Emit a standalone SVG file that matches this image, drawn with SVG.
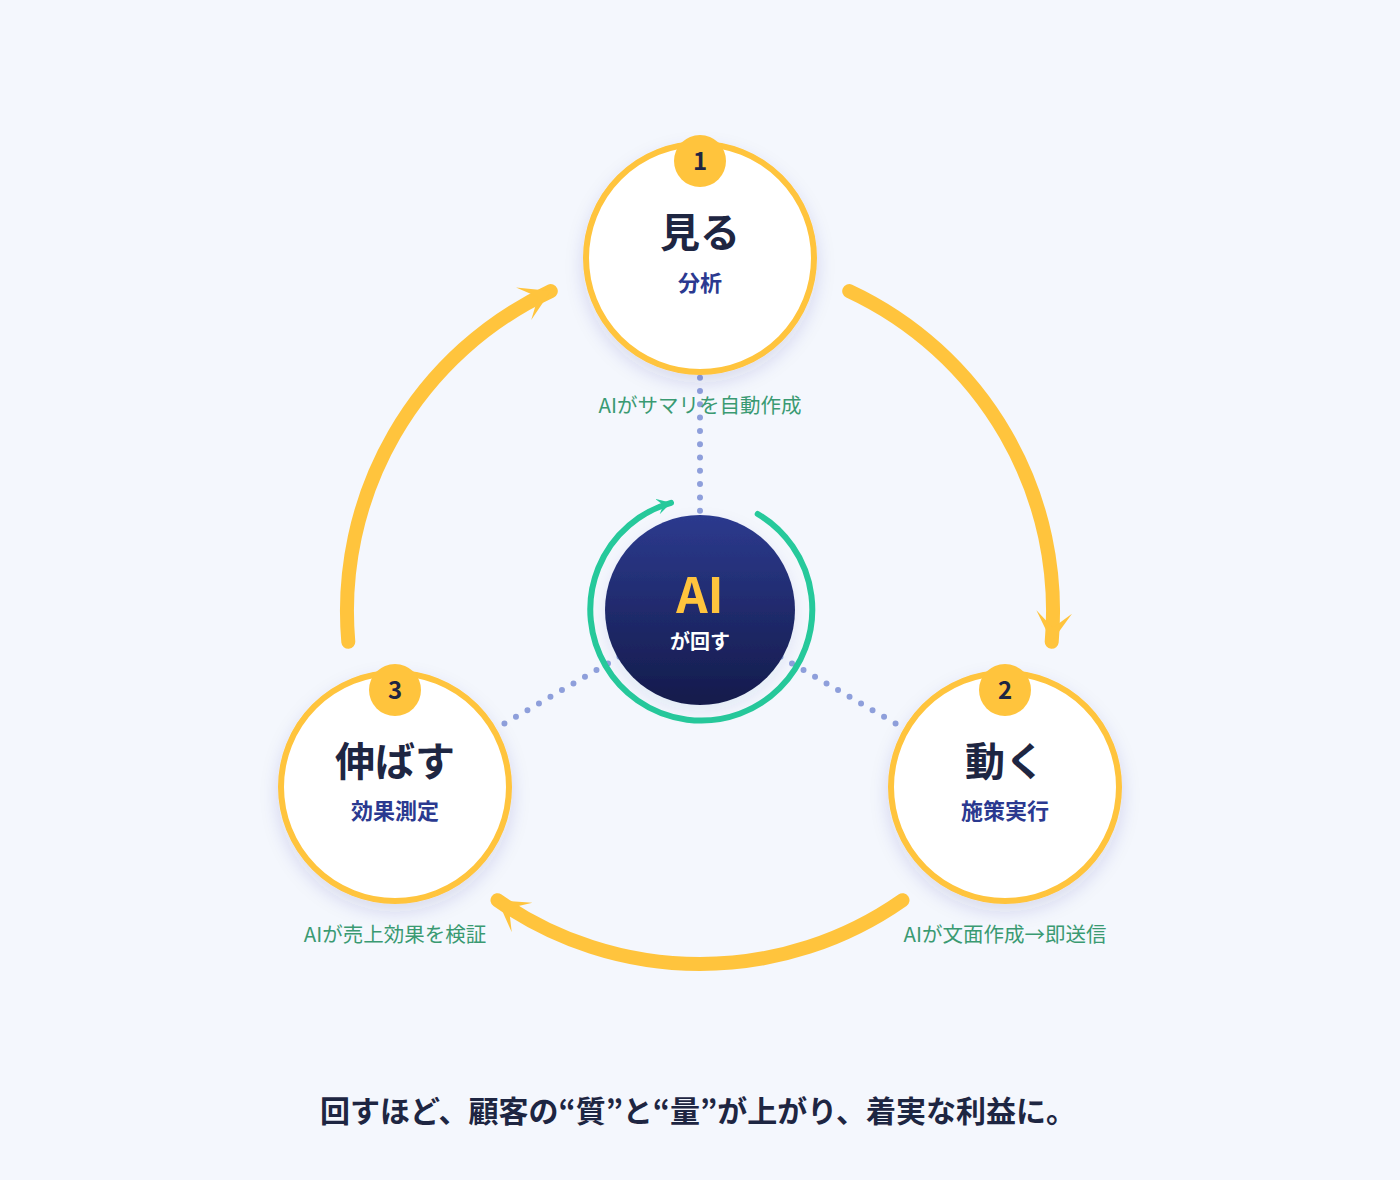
<svg xmlns="http://www.w3.org/2000/svg" width="1400" height="1180" viewBox="0 0 1400 1180">
<style>
text{font-family:"Noto Sans CJK JP","Noto Sans",sans-serif;text-anchor:middle}
.node{fill:#FFFFFF;stroke:#FFC43D;stroke-width:6}
.badge{fill:#FFC43D}
.num{font-size:24px;font-weight:700;fill:#1E2642}
.title{font-size:40px;font-weight:700;fill:#1E2642}
.sub{font-size:22px;font-weight:700;fill:#2B3990}
.note{font-size:20.5px;font-weight:400;fill:#3A9A72}
.cycle{fill:none;stroke:#FFC43D;stroke-width:14;stroke-linecap:round}
.dots{fill:none;stroke:#8E9FDB;stroke-width:6;stroke-linecap:round;stroke-dasharray:0 13.3}
</style>
<defs>
<filter id="sh" x="-30%" y="-30%" width="160%" height="160%">
<feDropShadow dx="0" dy="8" stdDeviation="9" flood-color="#2B3990" flood-opacity="0.14"/>
</filter>
<filter id="sh2" x="-30%" y="-30%" width="160%" height="160%">
<feDropShadow dx="0" dy="6" stdDeviation="8" flood-color="#2B3990" flood-opacity="0.08"/>
</filter>
<linearGradient id="ai" x1="0" y1="0" x2="0" y2="1">
<stop offset="0" stop-color="#2C3A8E"/>
<stop offset="1" stop-color="#141B4B"/>
</linearGradient>
<marker id="ah" markerUnits="userSpaceOnUse" markerWidth="40" markerHeight="40" refX="30" refY="18" orient="auto" viewBox="0 0 40 40">
<path d="M30,18 L0,0 L16,18 L0,36 Z" fill="#FFC43D"/>
</marker>
<marker id="gh" markerUnits="userSpaceOnUse" markerWidth="20" markerHeight="20" refX="14" refY="8" orient="auto" viewBox="0 0 20 20">
<path d="M14,8 L0,0 L6,8 L0,16 Z" fill="#26C99B"/>
</marker>
</defs>
<rect width="1400" height="1180" fill="#F4F7FD"/>

<g id="connectors">
<path class="dots" d="M700,258 L700,610"/>
<path class="dots" d="M700,610 L395,787"/>
<path class="dots" d="M700,610 L1005,787"/>
<path class="cycle" d="M849.2,291.1 A353,353 0 0 1 1051.7,641.8" marker-end="url(#ah)"/>
<path class="cycle" d="M902.5,900.2 A353,353 0 0 1 497.5,900.2" marker-end="url(#ah)"/>
<path class="cycle" d="M348.3,641.8 A353,353 0 0 1 550.8,291.1" marker-end="url(#ah)"/>
</g>

<g id="node-ai">
<path d="M757.7,514 A111,111 0 1 1 671,502.8" fill="none" stroke="#26C99B" stroke-width="6" stroke-linecap="round" marker-end="url(#gh)"/>
<circle cx="700" cy="610" r="95" fill="url(#ai)" filter="url(#sh2)"/>
<text x="700" y="613" style="font-size:49px;font-weight:700;fill:#FFC43D">AI</text>
<text x="700" y="649" style="font-size:20px;font-weight:700;fill:#FFFFFF">が回す</text>
</g>

<g id="node-1">
<circle class="node" cx="700" cy="258" r="114" filter="url(#sh)"/>
<circle class="badge" cx="700" cy="161" r="26"/>
<text class="num" x="700" y="170">1</text>
<text class="title" x="700" y="247">見る</text>
<text class="sub" x="700" y="291">分析</text>
<text class="note" x="700" y="413">AIがサマリを自動作成</text>
</g>

<g id="node-2">
<circle class="node" cx="1005" cy="787" r="114" filter="url(#sh)"/>
<circle class="badge" cx="1005" cy="690" r="26"/>
<text class="num" x="1005" y="699">2</text>
<text class="title" x="1005" y="776">動く</text>
<text class="sub" x="1005" y="819">施策実行</text>
<text class="note" x="1005" y="942">AIが文面作成→即送信</text>
</g>

<g id="node-3">
<circle class="node" cx="395" cy="787" r="114" filter="url(#sh)"/>
<circle class="badge" cx="395" cy="690" r="26"/>
<text class="num" x="395" y="699">3</text>
<text class="title" x="395" y="776">伸ばす</text>
<text class="sub" x="395" y="819">効果測定</text>
<text class="note" x="395" y="942">AIが売上効果を検証</text>
</g>

<text x="698" y="1122" style="font-size:30px;font-weight:700;fill:#1E2642">回すほど、顧客の“質”と“量”が上がり、着実な利益に。</text>
</svg>
